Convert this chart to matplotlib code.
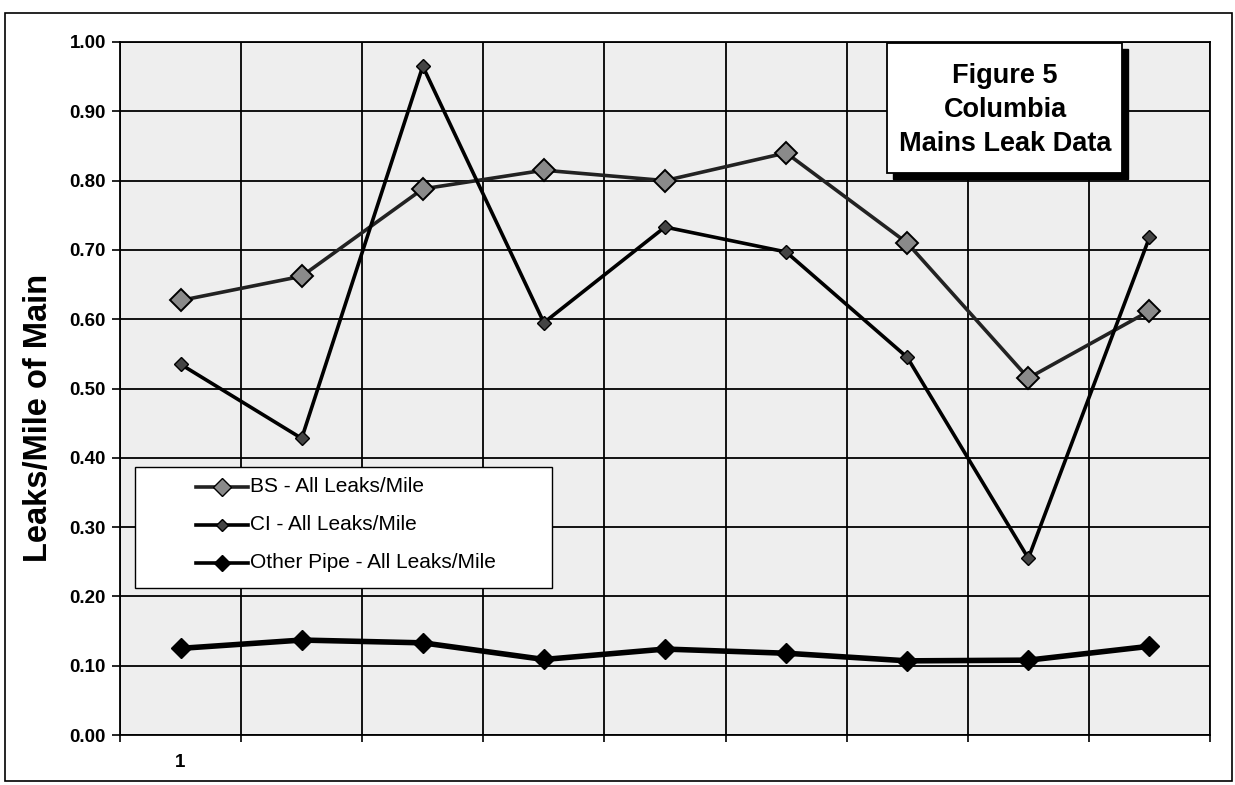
import matplotlib
matplotlib.use("Agg")
import matplotlib.pyplot as plt
from matplotlib.patches import Rectangle
from matplotlib.lines import Line2D

plt.rcParams['font.family'] = ['Liberation Sans', 'DejaVu Sans']

# leaks per mile of main, one value per period
periods = [1, 2, 3, 4, 5, 6, 7, 8, 9]
period_labels = ['1', '', '', '', '', '', '', '', '']
bs_leaks = [0.627, 0.662, 0.788, 0.815, 0.800, 0.840, 0.710, 0.515, 0.612]
ci_leaks = [0.535, 0.428, 0.965, 0.595, 0.733, 0.697, 0.545, 0.255, 0.718]
other_leaks = [0.125, 0.137, 0.133, 0.109, 0.124, 0.118, 0.107, 0.108, 0.128]
series_names = ['BS - All Leaks/Mile', 'CI - All Leaks/Mile',
                'Other Pipe - All Leaks/Mile']
y_ticks = [0.0, 0.1, 0.2, 0.3, 0.4, 0.5, 0.6, 0.7, 0.8, 0.9, 1.0]

fig = plt.figure(figsize=(12.35, 7.85), dpi=100)
W, H = 1235, 785
ax = fig.add_axes([120 / W, 1 - 735 / H, 1090 / W, 693 / H])
ax.set_facecolor('#eeeeee')

# outer frame round the whole chart
fig.patches.append(Rectangle((5 / W, 1 - 781 / H), 1227 / W, 768 / H,
                             transform=fig.transFigure, fill=False,
                             edgecolor='black', linewidth=1.2))

ax.set_xlim(0.5, 9.5)
ax.set_ylim(0, 1.0)

# grid: horizontal at every tick, vertical between periods
for y in y_ticks:
    ax.axhline(y, color='black', linewidth=1.3, zorder=1)
for b in range(len(periods) + 1):
    ax.axvline(0.5 + b, color='black', linewidth=1.3, zorder=1)

styles = [
    dict(color='#222222', linewidth=2.6, marker='D', markersize=11,
         markerfacecolor='#8a8a8a', markeredgecolor='black', markeredgewidth=1.4),
    dict(color='black', linewidth=2.6, marker='D', markersize=7,
         markerfacecolor='#444444', markeredgecolor='black'),
    dict(color='black', linewidth=4, marker='D', markersize=10,
         markerfacecolor='black', markeredgecolor='black'),
]
for vals, st in zip([bs_leaks, ci_leaks, other_leaks], styles):
    ax.plot(periods, vals, zorder=4, **st)

ax.set_yticks(y_ticks)
ax.set_yticklabels(['%.2f' % v for v in y_ticks], fontsize=13.5, fontweight='bold')
ax.set_xticks(periods)
ax.set_xticklabels(period_labels, fontsize=13.5, fontweight='bold')
ax.set_xticks([0.5 + b for b in range(len(periods) + 1)], minor=True)
ax.tick_params(axis='x', which='major', length=0, pad=14)
ax.tick_params(axis='x', which='minor', length=5, width=1.2, direction='out')
ax.tick_params(axis='y', length=6, width=1.2, direction='out', pad=4)
for s in ax.spines.values():
    s.set_linewidth(1.3)

ax.set_ylabel('Leaks/Mile of Main', fontsize=23.5, fontweight='bold')
ax.yaxis.set_label_coords(-0.061, 0.457)

# legend box drawn in pixel positions of the figure
def px(x, y):
    return x / W, 1 - y / H

lx0, ly0 = px(135, 588)
fig.patches.append(Rectangle((lx0, ly0), 417 / W, 121 / H,
                             transform=fig.transFigure, facecolor='white',
                             edgecolor='black', linewidth=1.0, zorder=6))
for i, (name, st) in enumerate(zip(series_names, styles)):
    row_y = 487 + 38 * i
    st_leg = dict(st)
    st_leg['markersize'] = st['markersize'] * 0.85
    st_leg['linewidth'] = min(st['linewidth'], 2.6)
    xa, ya = px(196, row_y)
    xb, _ = px(248, row_y)
    xm, _ = px(222, row_y)
    fig.lines.append(Line2D([xa, xb], [ya, ya], transform=fig.transFigure,
                            color=st_leg['color'], linewidth=st_leg['linewidth'],
                            zorder=7))
    fig.lines.append(Line2D([xm], [ya], transform=fig.transFigure, linestyle='none',
                            marker='D', markersize=st_leg['markersize'],
                            markerfacecolor=st_leg['markerfacecolor'],
                            markeredgecolor='black', zorder=8))
    fig.text(px(250, row_y)[0], ya, name, ha='left', va='center', fontsize=15,
             zorder=8)

# title box with a drop shadow
shadow = Rectangle((893 / W, 1 - 179 / H), 235 / W, 130 / H,
                   transform=fig.transFigure, facecolor='black',
                   edgecolor='black', zorder=7)
box = Rectangle((887 / W, 1 - 173 / H), 235 / W, 130 / H,
                transform=fig.transFigure, facecolor='white',
                edgecolor='black', linewidth=1.3, zorder=8)
fig.patches.extend([shadow, box])
fig.text(1005 / W, 1 - 110 / H, 'Figure 5\nColumbia\nMains Leak Data',
         ha='center', va='center', fontsize=19.5, fontweight='bold',
         linespacing=1.4, zorder=9)

fig.savefig('out.png', dpi=100)
